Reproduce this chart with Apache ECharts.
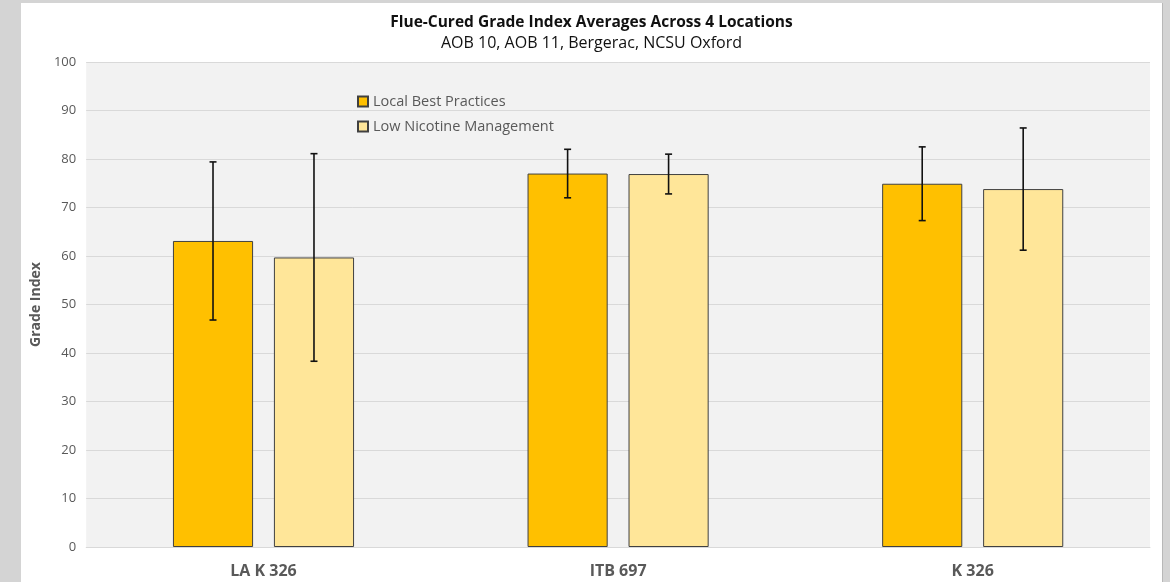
<!DOCTYPE html>
<html><head><meta charset="utf-8">
<script src="https://cdn.jsdelivr.net/npm/echarts@6/dist/echarts.min.js"></script>
<style>
html,body{margin:0;padding:0;width:1170px;height:582px;background:#d4d4d4;overflow:hidden;}
#c{position:absolute;left:21px;top:3px;width:1141px;height:579px;background:#fff;}
#edge{position:absolute;left:1162px;top:3px;width:1px;height:579px;background:#b8b8b8;}
</style></head>
<body><div id="c"></div><div id="edge"></div>
<script>
const categories = ['LA K 326', 'ITB 697', 'K 326'];
const seriesNames = ['Local Best Practices', 'Low Nicotine Management'];
const lbpMean = [63.1, 77.0, 74.9];
const lbpErr  = [16.3, 5.0, 7.6];
const lnmMean = [59.7, 76.9, 73.8];
const lnmErr  = [21.4, 4.1, 12.6];
const yTicks = [0, 10, 20, 30, 40, 50, 60, 70, 80, 90, 100];

const chart = echarts.init(document.getElementById('c'));
const font = '"Open Sans", "Liberation Sans", sans-serif';

function errSeries(means, errs, side) {
  return {
    type: 'custom',
    z: 10,
    silent: true,
    data: means.map((m, i) => [i, m - errs[i], m + errs[i]]),
    renderItem: function (params, api) {
      const ci = api.value(0);
      const lo = api.coord([ci, api.value(1)]);
      const hi = api.coord([ci, api.value(2)]);
      const cw = api.size([1, 0])[0];
      const bw = cw * 0.226;
      const x = lo[0] + side * bw * 0.63;
      const cap = 3.5;
      const st = { stroke: '#111', lineWidth: 1.6 };
      return { type: 'group', children: [
        { type: 'line', shape: { x1: x, y1: lo[1], x2: x, y2: hi[1] }, style: st },
        { type: 'line', shape: { x1: x - cap, y1: lo[1], x2: x + cap, y2: lo[1] }, style: st },
        { type: 'line', shape: { x1: x - cap, y1: hi[1], x2: x + cap, y2: hi[1] }, style: st }
      ]};
    }
  };
}

chart.setOption({
  animation: false,
  textStyle: { fontFamily: font },
  title: {
    text: 'Flue-Cured Grade Index Averages Across 4 Locations',
    subtext: 'AOB 10, AOB 11, Bergerac, NCSU Oxford',
    left: 'center', top: 7, itemGap: 4,
    textStyle: { fontFamily: font, fontSize: 15.5, fontWeight: 'bold', color: '#111' },
    subtextStyle: { fontFamily: font, fontSize: 16, color: '#111' }
  },
  legend: {
    orient: 'vertical', left: 331, top: 86, itemGap: 10,
    itemWidth: 10, itemHeight: 10,
    data: seriesNames.map(n => ({ name: n, icon: 'rect' })),
    textStyle: { fontFamily: font, fontSize: 14.5, color: '#595959' }
  },
  grid: { left: 57, right: 12, top: 59, bottom: 35, containLabel: false,
          show: true, backgroundColor: '#f2f2f2', borderWidth: 0 },
  xAxis: {
    type: 'category', data: categories,
    axisLine: { show: true, lineStyle: { color: '#d9d9d9' } },
    axisTick: { show: false },
    axisLabel: { fontFamily: font, fontSize: 16, fontWeight: 'bold', color: '#595959', margin: 16 }
  },
  yAxis: {
    type: 'value', min: 0, max: 100, interval: 10,
    name: 'Grade Index', nameLocation: 'middle', nameGap: 33, nameRotate: 90,
    nameTextStyle: { fontFamily: font, fontSize: 14, fontWeight: 'bold', color: '#595959' },
    axisLine: { show: false }, axisTick: { show: false },
    splitLine: { lineStyle: { color: '#d9d9d9', width: 1 } },
    axisLabel: { fontFamily: font, fontSize: 13, color: '#595959', margin: 10,
      formatter: v => yTicks.includes(v) ? String(v) : '' }
  },
  series: [
    { name: seriesNames[0], type: 'bar', data: lbpMean, barWidth: '22.6%', barGap: '26%',
      itemStyle: { color: '#ffc000', borderColor: '#404040', borderWidth: 1 } },
    { name: seriesNames[1], type: 'bar', data: lnmMean, barWidth: '22.6%', barGap: '26%',
      itemStyle: { color: '#ffe699', borderColor: '#404040', borderWidth: 1 } },
    errSeries(lbpMean, lbpErr, -1),
    errSeries(lnmMean, lnmErr, 1)
  ]
});
</script></body></html>
